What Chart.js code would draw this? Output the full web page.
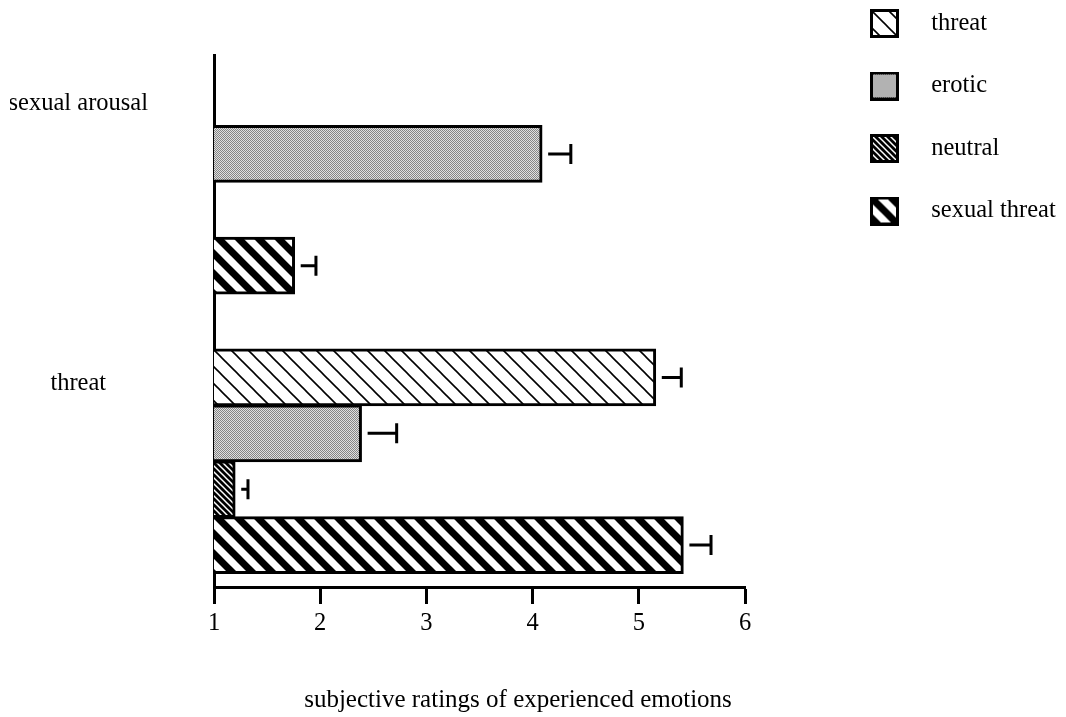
<!DOCTYPE html>
<html>
<head>
<meta charset="utf-8">
<script src="https://cdn.jsdelivr.net/npm/chart.js@4/dist/chart.umd.min.js"></script>
<style>
  body { margin: 0; background: #fff; }
</style>
</head>
<body>
<canvas id="ratingsChart" width="1066" height="717"></canvas>
<script>
// rows of the chart and the four kinds of film clip
const groups = ['sexual arousal', 'threat'];
const series = ['threat', 'erotic', 'neutral', 'sexual threat'];

// mean ratings (null = not shown) and the error bar length
const threatMean = [null, 5.16];
const threatErr = [null, 0.24];
const eroticMean = [4.09, 2.39];
const eroticErr = [0.27, 0.33];
const neutralMean = [null, 1.20];
const neutralErr = [null, 0.12];
const sexThreatMean = [1.76, 5.42];
const sexThreatErr = [0.20, 0.26];

const xMin = 1;
const xMax = 6;
const xTitle = 'subjective ratings of experienced emotions';

// each group takes one slot per series plus one empty slot
const groupPos = groups.map((g, gi) => gi * (series.length + 1));

Chart.defaults.font.family = "'Liberation Serif', 'Times New Roman', serif";
Chart.defaults.color = '#000';

// hatch tiles, lines go from top-left to bottom-right
function hatchTile(size, lineW, fg, bg) {
    const c = document.createElement('canvas');
    c.width = c.height = size;
    const g = c.getContext('2d');
    g.fillStyle = bg;
    g.fillRect(0, 0, size, size);
    g.strokeStyle = fg;
    g.lineWidth = lineW;
    for (const k of [-1, 0, 1]) {
        // run past the tile so the line ends don't leave gaps at the corners
        g.beginPath();
        g.moveTo(k * size - size, -size);
        g.lineTo(k * size + 2 * size, 2 * size);
        g.stroke();
    }
    return c;
}

function stippleTile() {
    const c = document.createElement('canvas');
    c.width = c.height = 2;
    const g = c.getContext('2d');
    g.fillStyle = '#e0e0e0';
    g.fillRect(0, 0, 2, 2);
    g.fillStyle = '#858585';
    g.fillRect(0, 0, 1, 1);
    g.fillRect(1, 1, 1, 1);
    return c;
}

const tiles = [
    hatchTile(17, 1.6, '#000', '#fff'),
    stippleTile(),
    hatchTile(6, 1.5, '#fff', '#000'),
    hatchTile(20, 7, '#000', '#fff')
];

const mainCtx = document.getElementById('ratingsChart').getContext('2d');
const patterns = tiles.map(t => mainCtx.createPattern(t, 'repeat'));

// legend swatch: a bordered square placed inside a wider transparent box
const swatchBoxW = 136;
const swatchX = 87;
const swatchSize = 29;
function makeSwatch(tile) {
    const c = document.createElement('canvas');
    c.width = swatchBoxW;
    c.height = swatchSize;
    const g = c.getContext('2d');
    g.fillStyle = '#000';
    g.fillRect(swatchX, 0, swatchSize, swatchSize);
    g.save();
    g.translate(swatchX, 0);
    g.fillStyle = g.createPattern(tile, 'repeat');
    g.fillRect(3, 3, swatchSize - 6, swatchSize - 6);
    g.restore();
    return c;
}
const swatches = tiles.map(makeSwatch);

function points(means, errs, si) {
    const out = [];
    means.forEach((m, gi) => {
        if (m !== null) out.push({ x: m, y: groupPos[gi] + si, err: errs[gi] });
    });
    return out;
}

const allMeans = [threatMean, eroticMean, neutralMean, sexThreatMean];
const allErrs = [threatErr, eroticErr, neutralErr, sexThreatErr];

const datasets = series.map((name, si) => ({
    label: name,
    data: points(allMeans[si], allErrs[si], si),
    backgroundColor: patterns[si],
    borderColor: '#000',
    borderWidth: 3,
    borderSkipped: false,
    barThickness: 57,
    grouped: false
}));

// error bar: starts a little right of the bar end, cap at mean + err
const errorBars = {
    id: 'errorBars',
    afterDatasetsDraw(chart) {
        const { ctx } = chart;
        const xScale = chart.scales.x;
        ctx.save();
        ctx.strokeStyle = '#000';
        ctx.lineWidth = 3;
        chart.data.datasets.forEach((ds, di) => {
            chart.getDatasetMeta(di).data.forEach((bar, i) => {
                const p = ds.data[i];
                const end = xScale.getPixelForValue(p.x + p.err);
                ctx.beginPath();
                ctx.moveTo(bar.x + 6, bar.y);
                ctx.lineTo(end, bar.y);
                ctx.moveTo(end, bar.y - 10);
                ctx.lineTo(end, bar.y + 10);
                ctx.stroke();
            });
        });
        ctx.restore();
    }
};

// legend sits in the top right corner, above the plot's top edge
const legendPlacement = {
    id: 'legendPlacement',
    afterLayout(chart) {
        const lg = chart.legend;
        lg.top = -26.75;
        lg.right = chart.width;
        lg.width = lg.right - lg.left;
        const t = chart.titleBlock;
        t.left += 18;
        t.right += 18;
    }
};

new Chart(mainCtx, {
    type: 'bar',
    data: { datasets },
    plugins: [errorBars, legendPlacement],
    options: {
        indexAxis: 'y',
        responsive: false,
        animation: false,
        layout: { padding: { left: 10, top: 55, right: 76, bottom: 0 } },
        scales: {
            x: {
                type: 'linear',
                min: xMin,
                max: xMax,
                ticks: { stepSize: 1, padding: 5, color: '#000', font: { size: 24.5 } },
                grid: { display: true, drawOnChartArea: false, drawTicks: true, tickLength: 17, tickWidth: 3, tickColor: '#000' },
                border: { display: true, color: '#000', width: 3 }
            },
            y: {
                type: 'linear',
                reverse: true,
                offset: false,
                min: -0.77,
                max: 8.75,
                afterBuildTicks: (scale) => {
                    scale.ticks = groupPos.map(v => ({ value: v }));
                },
                afterFit: (scale) => {
                    scale.width = 204;
                    scale.paddingTop = 0;
                    scale.paddingBottom = 0;
                },
                ticks: {
                    callback: (value) => groups[groupPos.indexOf(value)],
                    crossAlign: 'center',
                    padding: 66,
                    labelOffset: 6,
                    color: '#000',
                    font: { size: 24.5 }
                },
                grid: { display: false, drawTicks: false },
                border: { display: true, color: '#000', width: 3 }
            }
        },
        plugins: {
            tooltip: { enabled: false },
            legend: {
                position: 'right',
                align: 'start',
                labels: {
                    usePointStyle: true,
                    pointStyleWidth: swatchBoxW,
                    padding: 38,
                    color: '#000',
                    font: { size: 24.5 },
                    generateLabels: (chart) => chart.data.datasets.map((ds, i) => ({
                        text: ds.label,
                        pointStyle: swatches[i],
                        fillStyle: 'rgba(0,0,0,0)',
                        strokeStyle: 'rgba(0,0,0,0)',
                        lineWidth: 0,
                        fontColor: '#000',
                        hidden: false,
                        datasetIndex: i
                    }))
                }
            },
            title: {
                display: true,
                position: 'bottom',
                text: xTitle,
                color: '#000',
                font: { size: 25, weight: 'normal' },
                padding: { top: 41.6, bottom: 2 }
            }
        }
    }
});
</script>
</body>
</html>
